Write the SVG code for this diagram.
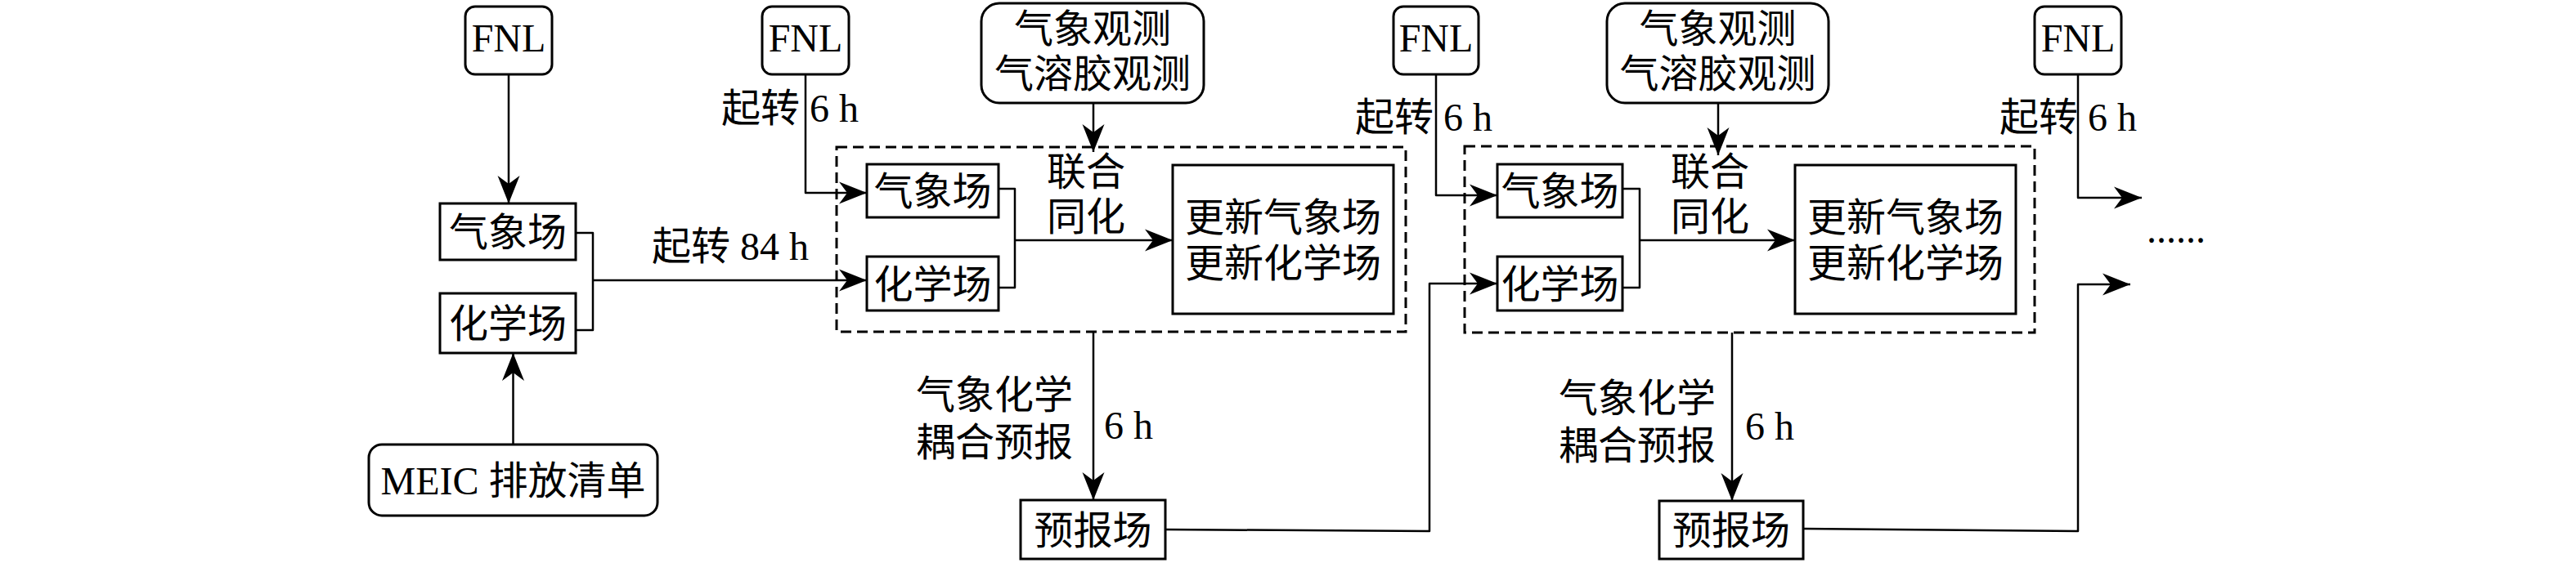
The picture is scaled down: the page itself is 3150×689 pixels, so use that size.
<svg xmlns="http://www.w3.org/2000/svg" width="3150" height="689" viewBox="0 0 3150 689">
<style>
.t{font-family:'Liberation Serif','Noto Sans CJK SC',serif;font-size:48px;fill:#000}
.c{text-anchor:middle}
.e{text-anchor:end}
.b{fill:#fff;stroke:#000;stroke-width:3}
.d{fill:none;stroke:#000;stroke-width:3;stroke-dasharray:13 7}
.l{fill:none;stroke:#000;stroke-width:2.5;stroke-linejoin:round}
.a{marker-end:url(#arr)}
</style>
<defs>
<marker id="arr" markerUnits="userSpaceOnUse" markerWidth="38" markerHeight="30" viewBox="-36 -15 38 30" refX="0" refY="0" orient="auto">
<path d="M0,0 L-34,-13.5 L-24,0 L-34,13.5 Z" fill="#000"/>
</marker>
</defs>
<rect width="3150" height="689" fill="#fff"/>
<g id="dashed1"><rect class="d" x="1023" y="180" width="696" height="226"/></g>
<g id="dashed2"><rect class="d" x="1791" y="179" width="697" height="228"/></g>
<g id="connectors">
<path class="l a" d="M622,91 V249"/>
<path class="l a" d="M627.5,544 V432"/>
<path class="l" d="M704,285 H725 V404 H704"/>
<path class="l a" d="M725,343 H1060"/>
<path class="l a" d="M985,91 V236 H1060"/>
<path class="l a" d="M1337,126 V186"/>
<path class="l" d="M1221,231 H1241 V352 H1221"/>
<path class="l a" d="M1241,294 H1434"/>
<path class="l a" d="M1337,406 V612"/>
<path class="l a" d="M1425,648 L1748,650 V347 H1831"/>
<path class="l a" d="M1756,91 V239 H1831"/>
<path class="l a" d="M2101,126 V190"/>
<path class="l" d="M1984,231 H2005 V352 H1984"/>
<path class="l a" d="M2005,294 H2195"/>
<path class="l a" d="M2118,407 V613"/>
<path class="l a" d="M2205,647 L2541,650 V348 H2605"/>
<path class="l a" d="M2541,91 V242 H2619"/>
</g>
<g id="fnl1"><rect class="b" x="569" y="8" width="106" height="83" rx="12"/><text class="t c" x="622" y="63">FNL</text></g>
<g id="fnl2"><rect class="b" x="932" y="8" width="106" height="83" rx="12"/><text class="t c" x="985" y="63">FNL</text></g>
<g id="fnl3"><rect class="b" x="1704" y="8" width="104" height="83" rx="12"/><text class="t c" x="1756" y="63">FNL</text></g>
<g id="fnl4"><rect class="b" x="2488" y="8" width="106" height="83" rx="12"/><text class="t c" x="2541" y="63">FNL</text></g>
<g id="met1"><rect class="b" x="538" y="249" width="166" height="69"/><text class="t c" x="621" y="301">气象场</text></g>
<g id="chem1"><rect class="b" x="538" y="359" width="166" height="73"/><text class="t c" x="621" y="413">化学场</text></g>
<g id="meic"><rect class="b" x="451" y="544" width="353" height="87" rx="16"/><text class="t c" x="627.5" y="605">MEIC 排放清单</text></g>
<g id="obs1"><rect class="b" x="1200" y="4" width="272" height="122" rx="22"/><text class="t c" x="1336" y="52">气象观测</text><text class="t c" x="1336" y="107">气溶胶观测</text></g>
<g id="obs2"><rect class="b" x="1965" y="4" width="271" height="122" rx="22"/><text class="t c" x="2100.5" y="52">气象观测</text><text class="t c" x="2100.5" y="107">气溶胶观测</text></g>
<g id="met2"><rect class="b" x="1060" y="201" width="161" height="65"/><text class="t c" x="1140.5" y="251">气象场</text></g>
<g id="chem2"><rect class="b" x="1060" y="314" width="161" height="66"/><text class="t c" x="1140.5" y="365">化学场</text></g>
<g id="update1"><rect class="b" x="1434" y="202" width="270" height="182"/><text class="t c" x="1569" y="283">更新气象场</text><text class="t c" x="1569" y="339">更新化学场</text></g>
<g id="met3"><rect class="b" x="1831" y="201" width="153" height="65"/><text class="t c" x="1907.5" y="251">气象场</text></g>
<g id="chem3"><rect class="b" x="1831" y="314" width="153" height="66"/><text class="t c" x="1907.5" y="365">化学场</text></g>
<g id="update2"><rect class="b" x="2195" y="202" width="270" height="182"/><text class="t c" x="2330" y="283">更新气象场</text><text class="t c" x="2330" y="339">更新化学场</text></g>
<g id="fcst1"><rect class="b" x="1248" y="612" width="177" height="72"/><text class="t c" x="1336.5" y="666">预报场</text></g>
<g id="fcst2"><rect class="b" x="2029" y="613" width="176" height="71"/><text class="t c" x="2117" y="666">预报场</text></g>
<g id="labels">
<text class="t" x="882" y="149">起转 6 h</text>
<text class="t" x="797" y="318">起转 84 h</text>
<text class="t" x="1657" y="160">起转 6 h</text>
<text class="t" x="2445" y="160">起转 6 h</text>
<text class="t c" x="1328" y="227">联合</text>
<text class="t c" x="1328" y="282">同化</text>
<text class="t c" x="2091" y="227">联合</text>
<text class="t c" x="2091" y="282">同化</text>
<text class="t e" x="1312" y="500">气象化学</text>
<text class="t e" x="1312" y="558">耦合预报</text>
<text class="t" x="1350" y="537">6 h</text>
<text class="t e" x="2098" y="504">气象化学</text>
<text class="t e" x="2098" y="562">耦合预报</text>
<text class="t" x="2134" y="538">6 h</text>
<text class="t" x="2625" y="297">......</text>
</g>
</svg>
